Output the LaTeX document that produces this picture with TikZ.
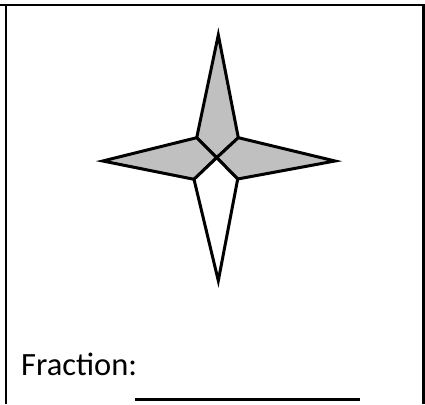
\documentclass[tikz,border=0pt]{standalone}
\usepackage{fontspec}
\setmainfont{Carlito}
\begin{document}
\begin{tikzpicture}[x=1pt,y=-1pt,
  frameline/.style={line width=2.4pt},
  kite/.style={draw=black,line width=3pt,line join=miter},
  shaded/.style={kite,fill={rgb,255:red,192;green,192;blue,192}},
  plain/.style={kite,fill=white}]
\useasboundingbox (0,0) rectangle (425,404);
\coordinate (T) at (218.3,35);
\coordinate (B) at (218.3,280.7);
\coordinate (L) at (102.7,161);
\coordinate (R) at (335,161);
\coordinate (C) at (216.7,157.7);
\coordinate (UL) at (196.7,137.7);
\coordinate (UR) at (238.3,137.7);
\coordinate (LL) at (194,179.3);
\coordinate (LR) at (237.7,179);
\draw[shaded] (T) -- (UR) -- (C) -- (UL) -- cycle;
\draw[shaded] (L) -- (UL) -- (C) -- (LL) -- cycle;
\draw[shaded] (R) -- (UR) -- (C) -- (LR) -- cycle;
\draw[plain] (B) -- (LL) -- (C) -- (LR) -- cycle;
\coordinate (f1) at (6,404);
\coordinate (f2) at (6,5);
\coordinate (f3) at (423.5,5);
\coordinate (f4) at (423.5,404);
\coordinate (t1) at (0,5);
\coordinate (t2) at (425,5);
\draw[frameline] (f1) -- (f2);
\draw[frameline] (t1) -- (t2);
\draw[frameline] (f3) -- (f4);
\node[anchor=base west,inner sep=0pt,font=\fontsize{32.5}{38}\selectfont] (lab) at (21,375) {Fraction:};
\coordinate (u1) at (135,399.5);
\coordinate (u2) at (360,399.5);
\draw[line width=2.6pt] (u1) -- (u2);
\end{tikzpicture}
\end{document}
